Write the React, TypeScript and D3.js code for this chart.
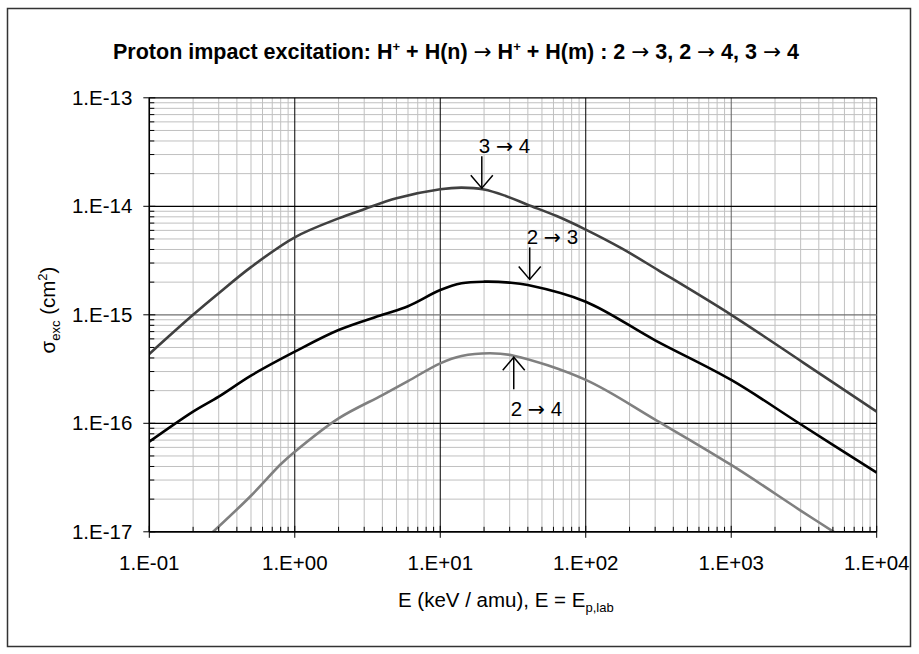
import React from "react";
import * as d3 from "d3";

// ---- data ----
const E_34 = [0.1, 0.2, 0.3, 0.5, 1, 2, 3, 5, 10, 14, 20, 28.2, 39.8, 63.1, 100, 178, 316, 1000, 3162, 10000];
const S_34 = [4.36e-16, 1.0e-15, 1.58e-15, 2.75e-15, 5.18e-15, 7.74e-15, 9.4e-15, 1.186e-14, 1.435e-14, 1.486e-14, 1.429e-14, 1.245e-14, 1.035e-14, 8.13e-15, 6.1e-15, 4.07e-15, 2.57e-15, 1.0e-15, 3.59e-16, 1.28e-16];

const E_23 = [0.1, 0.2, 0.3, 0.5, 1, 2, 4, 6, 10, 14, 20, 30, 40, 100, 300, 1000, 3000, 10000];
const S_23 = [6.76e-17, 1.28e-16, 1.76e-16, 2.75e-16, 4.57e-16, 7.24e-16, 1.0e-15, 1.2e-15, 1.69e-15, 1.95e-15, 2.02e-15, 1.98e-15, 1.88e-15, 1.32e-15, 5.82e-16, 2.51e-16, 9.8e-17, 3.51e-17];

const E_24 = [0.27, 0.5, 0.8, 1, 2, 4, 6, 10, 14, 22, 32, 100, 300, 1000, 3000, 5500];
const S_24 = [9.8e-18, 2.15e-17, 4.19e-17, 5.47e-17, 1.11e-16, 1.82e-16, 2.45e-16, 3.57e-16, 4.17e-16, 4.42e-16, 4.2e-16, 2.51e-16, 1.08e-16, 4.13e-17, 1.57e-17, 9.3e-18];

const X_TICKS = [0.1, 1, 10, 100, 1000, 10000];
const X_TICK_LABELS = ["1.E-01", "1.E+00", "1.E+01", "1.E+02", "1.E+03", "1.E+04"];
const Y_TICKS = [1e-13, 1e-14, 1e-15, 1e-16, 1e-17];
const Y_TICK_LABELS = ["1.E-13", "1.E-14", "1.E-15", "1.E-16", "1.E-17"];

const SERIES_FROM = ["3", "2", "2"];
const SERIES_TO = ["4", "3", "4"];
// annotation anchors (E, sigma) at the arrow tips
const ANNOT_E = [19.3, 41.2, 32];
const ANNOT_S = [1.47e-14, 2.12e-15, 4.06e-16];

const W = 919;
const H = 654;
const PL = 149.3, PR = 876.7, PT = 97.8, PB = 531.8;
const FONT = "Liberation Sans, Arial, sans-serif";
const ARROW_FONT = "DejaVu Sans, sans-serif";
const FS = 20.5;

const Arr = ({ size }: { size?: number }) => (
  <tspan fontFamily={ARROW_FONT} fontWeight="normal" fontSize={size}>→</tspan>
);

export default function App() {
  const x = d3.scaleLog().domain([0.1, 1e4]).range([PL, PR]);
  const y = d3.scaleLog().domain([1e-17, 1e-13]).range([PB, PT]);

  const minorX: number[] = [];
  for (let d = -1; d < 4; d++) for (let k = 2; k <= 9; k++) minorX.push(k * Math.pow(10, d));
  const minorY: number[] = [];
  for (let d = -17; d < -13; d++) for (let k = 2; k <= 9; k++) minorY.push(k * Math.pow(10, d));

  const line = d3
    .line<[number, number]>()
    .x((d) => x(d[0]))
    .y((d) => y(d[1]))
    .curve(d3.curveCatmullRom.alpha(0.5));

  const series = [
    { e: E_34, s: S_34, color: "#404040" },
    { e: E_23, s: S_23, color: "#000000" },
    { e: E_24, s: S_24, color: "#808080" },
  ];

  const majorXColor = (v: number) => (v === 1000 ? "#606060" : "#000");
  const majorYColor = (v: number) => (v === 1e-15 ? "#707070" : "#000");

  return (
    <svg
      width={W}
      height={H}
      style={{ position: "absolute", left: 0, top: 0, display: "block", background: "#fff" }}
      fontFamily={FONT}
    >
      <rect x={0} y={0} width={W} height={H} fill="#fff" />
      <rect x={7.5} y={8.5} width={903} height={638} fill="none" stroke="#333" strokeWidth={1.5} />
      <defs>
        <clipPath id="plotclip">
          <rect x={PL} y={PT} width={PR - PL} height={PB - PT} />
        </clipPath>
      </defs>

      {/* minor grid */}
      {minorX.map((v, i) => (
        <line key={"mx" + i} x1={x(v)} x2={x(v)} y1={PT} y2={PB} stroke="#c0c0c0" strokeWidth={1} />
      ))}
      {minorY.map((v, i) => (
        <line key={"my" + i} x1={PL} x2={PR} y1={y(v)} y2={y(v)} stroke="#c0c0c0" strokeWidth={1} />
      ))}
      {/* major grid */}
      {X_TICKS.map((v, i) => (
        <line key={"Mx" + i} x1={x(v)} x2={x(v)} y1={PT} y2={PB} stroke={majorXColor(v)} strokeWidth={1} />
      ))}
      {Y_TICKS.map((v, i) => (
        <line key={"My" + i} x1={PL} x2={PR} y1={y(v)} y2={y(v)} stroke={majorYColor(v)} strokeWidth={1.2} />
      ))}

      {/* curves */}
      <g clipPath="url(#plotclip)">
        {series.map((sr, i) => (
          <path
            key={"s" + i}
            d={line(sr.e.map((e, j) => [e, sr.s[j]] as [number, number])) || ""}
            fill="none"
            stroke={sr.color}
            strokeWidth={2.6}
            strokeLinejoin="round"
          />
        ))}
      </g>

      {/* axes */}
      <line x1={PL} x2={PL} y1={PT} y2={PB} stroke="#000" strokeWidth={1.5} />
      <line x1={PL} x2={PR} y1={PB} y2={PB} stroke="#000" strokeWidth={1.5} />
      {minorY.map((v, i) => (
        <line key={"ty" + i} x1={PL} x2={PL + 5} y1={y(v)} y2={y(v)} stroke="#000" strokeWidth={1} />
      ))}
      {Y_TICKS.map((v, i) => (
        <line key={"Ty" + i} x1={PL - 6} x2={PL + 6} y1={y(v)} y2={y(v)} stroke="#000" strokeWidth={1} />
      ))}
      {minorX.map((v, i) => (
        <line key={"tx" + i} x1={x(v)} x2={x(v)} y1={PB} y2={PB - 5} stroke="#000" strokeWidth={1} />
      ))}
      {X_TICKS.map((v, i) => (
        <line key={"Tx" + i} x1={x(v)} x2={x(v)} y1={PB - 6} y2={PB + 6} stroke="#000" strokeWidth={1} />
      ))}

      {/* tick labels */}
      {Y_TICKS.map((v, i) => (
        <text key={"yl" + i} x={PL - 17} y={y(v) + 7} textAnchor="end" fontSize={FS} fill="#000">
          {Y_TICK_LABELS[i]}
        </text>
      ))}
      {X_TICKS.map((v, i) => (
        <text key={"xl" + i} x={x(v)} y={PB + 38.5} textAnchor="middle" fontSize={FS} fill="#000">
          {X_TICK_LABELS[i]}
        </text>
      ))}

      {/* title */}
      <text x={113} y={59} textAnchor="start" fontSize={21.5} fontWeight="bold" fill="#000">
        Proton impact excitation: H<tspan dy={-8} fontSize={13}>+</tspan>
        <tspan dy={8}> + H(n) </tspan>
        <Arr />
        <tspan> H</tspan>
        <tspan dy={-8} fontSize={13}>+</tspan>
        <tspan dy={8}> + H(m) : 2 </tspan>
        <Arr />
        <tspan> 3, 2 </tspan>
        <Arr />
        <tspan> 4, 3 </tspan>
        <Arr />
        <tspan> 4</tspan>
      </text>

      {/* axis titles */}
      <text x={398} y={607} textAnchor="start" fontSize={FS} fill="#000">
        E (keV / amu), E = E<tspan dy={5} fontSize={13}>p,lab</tspan>
      </text>
      <text transform="translate(55,310) rotate(-90)" textAnchor="middle" fontSize={FS} fill="#000">
        σ<tspan dy={5} fontSize={13}>exc</tspan>
        <tspan dy={-5}> (cm</tspan>
        <tspan dy={-8} fontSize={13}>2</tspan>
        <tspan dy={8}>)</tspan>
      </text>

      {/* annotations */}
      {SERIES_FROM.map((from, i) => {
        const tx = x(ANNOT_E[i]);
        const ty = y(ANNOT_S[i]);
        const up = i === 2;
        const len = 32;
        const tail = up ? ty + len : ty - len;
        const hw = 11, hh = 13;
        const hy = up ? ty + hh : ty - hh;
        return (
          <g key={"a" + i}>
            <line x1={tx} x2={tx} y1={tail} y2={ty} stroke="#000" strokeWidth={1.5} />
            <polyline
              points={`${tx - hw},${hy} ${tx},${ty} ${tx + hw},${hy}`}
              fill="none"
              stroke="#000"
              strokeWidth={1.5}
            />
            <text x={tx - 3} y={up ? tail + 27 : tail - 3} fontSize={FS} fill="#000">
              {from + " "}
              <Arr size={FS} />
              {" " + SERIES_TO[i]}
            </text>
          </g>
        );
      })}
    </svg>
  );
}
